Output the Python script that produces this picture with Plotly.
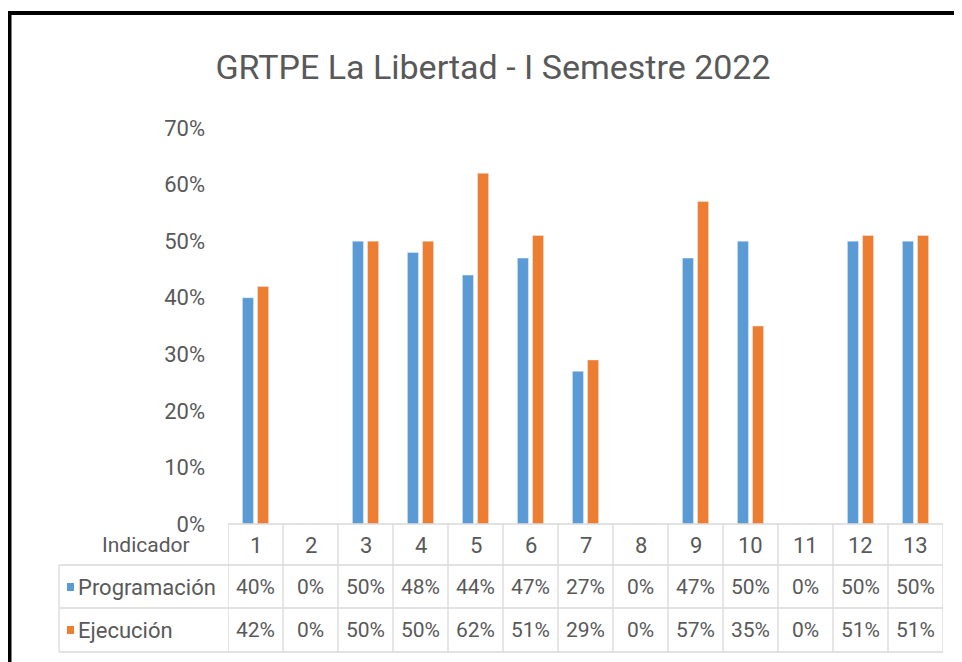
import plotly.graph_objects as go

categories = ["1", "2", "3", "4", "5", "6", "7", "8", "9", "10", "11", "12", "13"]
programacion = [0.40, 0.0, 0.50, 0.48, 0.44, 0.47, 0.27, 0.0, 0.47, 0.50, 0.0, 0.50, 0.50]
ejecucion = [0.42, 0.0, 0.50, 0.50, 0.62, 0.51, 0.29, 0.0, 0.57, 0.35, 0.0, 0.51, 0.51]
series_names = ["Programación", "Ejecución"]
title_text = "GRTPE La Libertad - I Semestre 2022"
row_header = "Indicador"

BLUE = "#5B9BD5"
ORANGE = "#ED7D31"
TXT = "#595959"
GRID = "#D9D9D9"
FONT = "Roboto, sans-serif"

OFF = 8  # default page body margin
W, H = 962 - OFF, 662 - OFF
L, R, T, B = 228, 943, 128, 524  # plot area in page pixels


def px(x):
    return (x - L) / (R - L)


def py(y):
    return (B - y) / (B - T)


fig = go.Figure()
fig.add_trace(go.Bar(x=categories, y=programacion, name=series_names[0], marker_color=BLUE))
fig.add_trace(go.Bar(x=categories, y=ejecucion, name=series_names[1], marker_color=ORANGE))

shapes = []
annotations = []
n = len(categories)
row_lines = [524, 565, 608, 652]
row_centers = [545, 587, 630]

# horizontal table lines
shapes.append(dict(type="line", xref="x", yref="paper", x0=-0.5, x1=n - 0.5,
                   y0=py(row_lines[0]), y1=py(row_lines[0]), line=dict(color=GRID, width=1.3)))
for yl in row_lines[1:]:
    shapes.append(dict(type="line", xref="paper", yref="paper", x0=px(59), x1=1,
                       y0=py(yl), y1=py(yl), line=dict(color=GRID, width=1.3)))
# vertical table lines
for i in range(n + 1):
    shapes.append(dict(type="line", xref="x", yref="paper", x0=i - 0.5, x1=i - 0.5,
                       y0=py(row_lines[0]), y1=py(row_lines[-1]), line=dict(color=GRID, width=1.3)))
shapes.append(dict(type="line", xref="paper", yref="paper", x0=px(59), x1=px(59),
                   y0=py(row_lines[1]), y1=py(row_lines[-1]), line=dict(color=GRID, width=1.3)))

# legend keys
for yc, col in zip(row_centers[1:], [BLUE, ORANGE]):
    shapes.append(dict(type="rect", xref="paper", yref="paper", x0=px(67), x1=px(74),
                       y0=py(yc + 4), y1=py(yc - 4), fillcolor=col, line=dict(width=0)))

# outer frame (black) and chart-area border
shapes.append(dict(type="path", xref="paper", yref="paper",
                   path=f"M {px(9.5)} {py(700)} L {px(9.5)} {py(13)} L {px(980)} {py(13)}",
                   line=dict(color="black", width=4)))
shapes.append(dict(type="line", xref="paper", yref="paper", x0=px(957), x1=px(957),
                   y0=py(25), y1=py(700), line=dict(color="#EEEEEE", width=1)))

# table text
annotations.append(dict(xref="paper", yref="paper", x=px(146), y=py(row_centers[0]),
                        text=row_header, showarrow=False, xanchor="center", yanchor="middle",
                        font=dict(size=21, color=TXT, family=FONT)))
for yc, name in zip(row_centers[1:], series_names):
    annotations.append(dict(xref="paper", yref="paper", x=px(76), y=py(yc),
                            text=name, showarrow=False, xanchor="left", yanchor="middle",
                            font=dict(size=22, color=TXT, family=FONT)))
for i, c in enumerate(categories):
    annotations.append(dict(xref="x", yref="paper", x=i, y=py(row_centers[0]), text=c,
                            showarrow=False, xanchor="center", yanchor="middle",
                            font=dict(size=22, color=TXT, family=FONT)))
for vals, yc in zip([programacion, ejecucion], row_centers[1:]):
    for i, v in enumerate(vals):
        annotations.append(dict(xref="x", yref="paper", x=i, y=py(yc), text=f"{round(v*100)}%",
                                showarrow=False, xanchor="center", yanchor="middle",
                                font=dict(size=21, color=TXT, family=FONT)))

fig.update_layout(
    width=W, height=H, autosize=False,
    margin=dict(l=L - OFF, r=W - (R - OFF), t=T - OFF, b=H - (B - OFF), pad=0),
    paper_bgcolor="white", plot_bgcolor="white",
    barmode="group", bargap=0.45, bargroupgap=0.27,
    showlegend=False,
    title=dict(text=title_text, x=(493 - OFF) / W, xanchor="center", y=1 - (67.5 - OFF) / H,
               yanchor="middle", font=dict(size=34, color=TXT, family=FONT)),
    xaxis=dict(type="category", showticklabels=False, showgrid=False, zeroline=False,
               showline=False, range=[-0.5, n - 0.5]),
    yaxis=dict(range=[0, 0.7], tickvals=[0, 0.1, 0.2, 0.3, 0.4, 0.5, 0.6, 0.7], tickformat=".0%",
               showgrid=False, zeroline=False, showline=False, ticks="", ticklabelstandoff=22,
               tickfont=dict(size=22, color=TXT, family=FONT)),
    shapes=shapes, annotations=annotations,
)

fig.write_html("out.html")
